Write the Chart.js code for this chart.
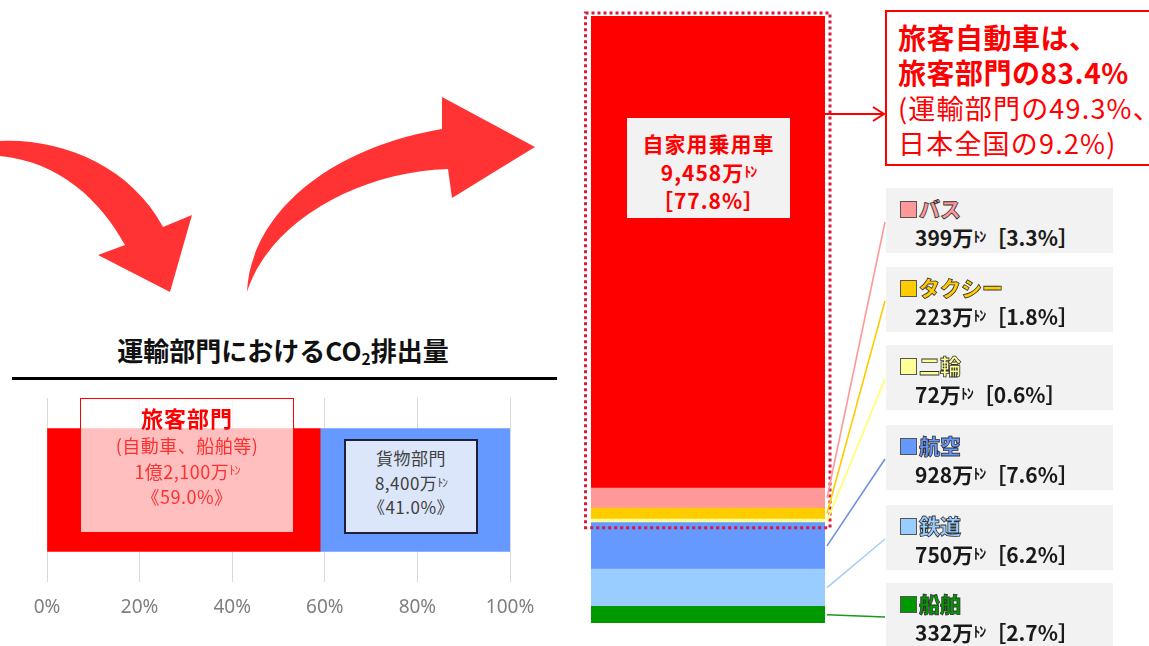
<!DOCTYPE html>
<html lang="ja">
<head>
<meta charset="utf-8">
<title>運輸部門におけるCO2排出量</title>
<script src="https://cdn.jsdelivr.net/npm/chart.js@4/dist/chart.umd.min.js"></script>
<style>
  html, body { margin: 0; padding: 0; background: #fff; }
  #stage { position: relative; width: 1149px; height: 646px; overflow: hidden; font-family: "Noto Sans CJK JP", "Noto Sans", sans-serif; }
  #stage canvas { position: absolute; }
  .abs { position: absolute; box-sizing: border-box; }
  .ton { font-size: 0.68em; vertical-align: 0.3em; letter-spacing: -0.08em; }
  #title { left: 0; top: 334px; width: 566px; text-align: center; font-size: 26px; font-weight: 700; line-height: 32px; color: #111; }
  #title sub { font-size: 0.6em; vertical-align: -0.25em; }
  #rule { left: 12px; top: 377px; width: 545px; height: 3px; background: #000; }
  #passBox { left: 80px; top: 398px; width: 214px; height: 135px; border: 1.5px solid #ff0000; background: rgba(255,255,255,0.75); text-align: center; padding-top: 2px; color: #ff3030; font-size: 18px; line-height: 25px; letter-spacing: 0.5px; }
  #passBox .head { font-size: 22px; font-weight: 700; color: #ff0000; line-height: 32px; letter-spacing: 1px; }
  #freightBox { left: 344px; top: 439px; width: 134px; height: 95px; border: 2px solid #1f1f3a; background: #dce6fa; text-align: center; padding-top: 5px; color: #404040; font-size: 17px; line-height: 24px; letter-spacing: 0.5px; }
  #carLabel { left: 627px; top: 118px; width: 163px; height: 100px; background: #f2f2f2; text-align: center; padding-top: 11px; color: #ff0000; font-weight: 700; font-size: 21px; line-height: 28px; letter-spacing: 1px; }
  #summary { left: 885px; top: 10px; width: 300px; height: 156px; border: 2px solid #ff0000; background: #fff; padding: 8px 0 0 11px; color: #ff0000; font-size: 27px; line-height: 35px; white-space: nowrap; letter-spacing: 1.2px; }
  #summary .b { font-weight: 700; font-size: 28px; letter-spacing: 0.5px; }
  .modeBox { left: 886px; width: 227px; height: 65px; background: #f2f2f2; padding-top: 6px; white-space: nowrap; }
  .modeBox .name { padding-left: 14px; line-height: 28px; font-size: 21px; font-weight: 900; -webkit-text-stroke: 0.8px #333; }
  .modeBox .sq { display: inline-block; width: 15px; height: 15px; border: 1px solid #555; vertical-align: -1px; margin-right: 2px; }
  .modeBox .val { padding-left: 29px; line-height: 28px; font-size: 21px; font-weight: 700; color: #1a1a1a; }
</style>
</head>
<body>
<div id="stage">
  <svg class="abs" width="1149" height="646" style="left:0;top:0">
    <path d="M0,141 C60,138 130,165 163,227 L192,215 L170,292 L98,255 L125,245 C100,200 60,162 0,156 Z" fill="#ff3333"/>
    <path d="M247,292 C250,220 320,150 442,129 L442,97 L535,147 L452,198 L448,169 C360,172 270,220 247,292 Z" fill="#ff3333"/>
  </svg>

  <div id="title" class="abs">運輸部門におけるCO<sub>2</sub>排出量</div>
  <div id="rule" class="abs"></div>

  <canvas id="shareChart" width="560" height="250" style="left:0;top:380px"></canvas>
  <div id="passBox" class="abs"></div>
  <div id="freightBox" class="abs"></div>

  <canvas id="modeChart" width="320" height="646" style="left:570px;top:0"></canvas>
  <div id="carLabel" class="abs"></div>
  <div id="summary" class="abs">
    <div class="b">旅客自動車は、</div>
    <div class="b">旅客部門の83.4%</div>
    <div>(運輸部門の49.3%、</div>
    <div>日本全国の9.2%)</div>
  </div>
  <div id="modeLabels"></div>
</div>

<script>
// ------------------ DATA ------------------
// left: share of transport CO2 by sector (%)
const sectorNames = ['旅客部門', '貨物部門'];
const sectorNotes = ['(自動車、船舶等)', ''];
const sectorAmounts = ['1億2,100', '8,400'];   // 万トン
const sectorShares = [59.0, 41.0];
const shareTicks = [0, 20, 40, 60, 80, 100];

// right: passenger breakdown by mode, top to bottom (万トン)
const modeNames = ['自家用乗用車', 'バス', 'タクシー', '二輪', '航空', '鉄道', '船舶'];
const modeValues = [9458, 399, 223, 72, 928, 750, 332];
const modeAmounts = ['9,458', '399', '223', '72', '928', '750', '332'];
const modeShares = [77.8, 3.3, 1.8, 0.6, 7.6, 6.2, 2.7];
const carGroupCount = 4; // 自家用乗用車〜二輪 = 旅客自動車

// ------------------ STYLES ------------------
const sectorColors = ['#ff0000', '#6699ff'];
const modeColors = ['#ff0000', '#ff9999', '#ffcc00', '#ffff99', '#6699ff', '#99ccff', '#009900'];
const leaderColors = [null, '#ff9999', '#ffcc00', '#ffff66', '#6f8fe6', '#a6cdf5', '#169c16'];
const labelTops = [188, 267, 345, 425, 505, 583];

const ton = '<span class="ton">ﾄﾝ</span>';

// ------------------ LEFT CHART ------------------
new Chart(document.getElementById('shareChart'), {
    type: 'bar',
    data: {
        labels: ['運輸部門'],
        datasets: sectorNames.map((n, i) => ({
            label: n, data: [sectorShares[i]], backgroundColor: sectorColors[i],
            borderWidth: 0, barThickness: 123
        }))
    },
    options: {
        indexAxis: 'y',
        responsive: false,
        animation: false,
        layout: { padding: { left: 47, right: 50, top: 18, bottom: 8 } },
        plugins: { legend: { display: false }, tooltip: { enabled: false } },
        scales: {
            x: {
                stacked: true, min: 0, max: 100,
                afterBuildTicks: s => { s.ticks = shareTicks.map(v => ({ value: v })); },
                afterFit: s => { s.height = 40; },
                grid: { color: '#d9d9d9', lineWidth: 1, drawTicks: false },
                border: { display: false },
                ticks: { padding: 14, color: '#7f7f7f', font: { family: 'Noto Sans', size: 19 }, callback: v => v + '%' }
            },
            y: { stacked: true, display: false }
        }
    }
});

document.getElementById('passBox').innerHTML =
    `<div class="head">${sectorNames[0]}</div><div>${sectorNotes[0]}</div>` +
    `<div>${sectorAmounts[0]}万${ton}</div><div>《${sectorShares[0].toFixed(1)}%》</div>`;
document.getElementById('freightBox').innerHTML =
    `<div>${sectorNames[1]}</div><div>${sectorAmounts[1]}万${ton}</div><div>《${sectorShares[1].toFixed(1)}%》</div>`;

// ------------------ RIGHT CHART ------------------
const total = modeValues.reduce((a, b) => a + b, 0);
const carSum = modeValues.slice(0, carGroupCount).reduce((a, b) => a + b, 0);

const leaderPlugin = {
    id: 'leaders',
    afterDatasetsDraw(chart) {
        const { ctx, chartArea, scales: { y } } = chart;
        ctx.save();

        // dotted frame round 旅客自動車
        ctx.strokeStyle = '#d81b3c';
        ctx.lineWidth = 3;
        ctx.setLineDash([3, 3]);
        const top = y.getPixelForValue(total) - 3;
        const bottom = y.getPixelForValue(total - carSum) + 5;
        ctx.strokeRect(chartArea.left - 5.5, top, chartArea.width + 10.5, bottom - top);
        ctx.setLineDash([]);

        // arrow to summary box
        const ax = chartArea.right, ay = 114, bx = chartArea.right + 59;
        ctx.strokeStyle = '#ff0000';
        ctx.lineWidth = 2;
        ctx.beginPath();
        ctx.moveTo(ax, ay); ctx.lineTo(bx, ay);
        ctx.moveTo(bx - 11, ay - 7); ctx.lineTo(bx, ay); ctx.lineTo(bx - 11, ay + 7);
        ctx.stroke();

        // leader lines to the mode boxes
        ctx.lineWidth = 1.6;
        for (let i = 1; i < modeValues.length; i++) {
            const below = modeValues.slice(i + 1).reduce((a, b) => a + b, 0);
            const mid = y.getPixelForValue(below + modeValues[i] / 2);
            ctx.strokeStyle = leaderColors[i];
            ctx.beginPath();
            ctx.moveTo(chartArea.right + 2, mid);
            ctx.lineTo(chartArea.right + 60, labelTops[i - 1] + 34);
            ctx.stroke();
        }
        ctx.restore();
    }
};

new Chart(document.getElementById('modeChart'), {
    type: 'bar',
    data: {
        labels: ['旅客部門'],
        datasets: modeNames.map((n, i) => ({
            label: n, data: [modeValues[i]], backgroundColor: modeColors[i], borderWidth: 0,
            barPercentage: 1, categoryPercentage: 1
        })).reverse()
    },
    options: {
        responsive: false,
        animation: false,
        layout: { padding: { left: 21, right: 65, top: 16, bottom: 23 } },
        plugins: { legend: { display: false }, tooltip: { enabled: false } },
        scales: {
            x: { stacked: true, display: false },
            y: { stacked: true, display: false, min: 0, max: total }
        }
    },
    plugins: [leaderPlugin]
});

document.getElementById('carLabel').innerHTML =
    `<div>${modeNames[0]}</div><div>${modeAmounts[0]}万${ton}</div><div>［${modeShares[0].toFixed(1)}%］</div>`;

const labelHost = document.getElementById('modeLabels');
for (let i = 1; i < modeNames.length; i++) {
    const box = document.createElement('div');
    box.className = 'abs modeBox';
    box.style.top = labelTops[i - 1] + 'px';
    box.innerHTML =
        `<div class="name" style="color:${modeColors[i]}"><span class="sq" style="background:${modeColors[i]}"></span>${modeNames[i]}</div>` +
        `<div class="val">${modeAmounts[i]}万${ton}［${modeShares[i].toFixed(1)}%］</div>`;
    labelHost.appendChild(box);
}
</script>
</body>
</html>
